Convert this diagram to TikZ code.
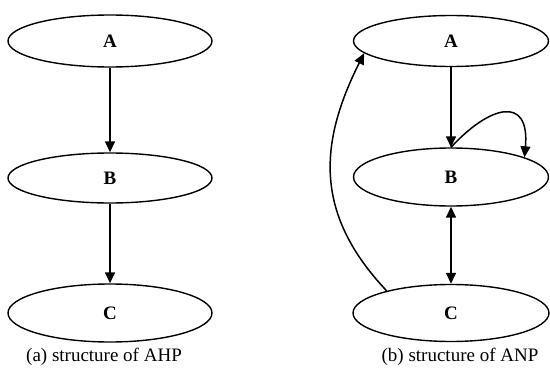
\documentclass[tikz,border=0pt]{standalone}
\usepackage{fontspec}
\setmainfont{Liberation Serif}
\usetikzlibrary{shapes.geometric,arrows.meta}
\begin{document}
\begin{tikzpicture}[x=1pt,y=-1pt,
  ell/.style={ellipse,draw,line width=1.4pt,inner sep=0pt,font=\fontsize{19}{22}\selectfont\bfseries},
  con/.style={line width=1.5pt,-{Triangle[length=11pt,width=10pt]}},
  biarrow/.style={line width=1.5pt,{Triangle[length=11pt,width=10pt]}-{Triangle[length=11pt,width=10pt]}},
  captext/.style={font=\fontsize{19}{22}\selectfont}]
\useasboundingbox (0,0) rectangle (550,375);
% left: AHP
\node[ell,minimum width=204pt,minimum height=52pt] (lA) at (110,41) {A};
\node[ell,minimum width=204pt,minimum height=50pt] (lB) at (110,178) {B};
\node[ell,minimum width=204pt,minimum height=58pt] (lC) at (110,313) {C};
\node[captext] (lcap) at (104,357) {(a) structure of AHP};
\draw[con] (lA.south) -- (lB.north);
\draw[con] (lB.south) -- (lC.north);
% right: ANP
\node[ell,minimum width=195pt,minimum height=51pt] (rA) at (451,41) {A};
\node[ell,minimum width=195pt,minimum height=58pt] (rB) at (451,177) {B};
\node[ell,minimum width=196pt,minimum height=57pt] (rC) at (451,313) {C};
\node[captext] (rcap) at (460,357) {(b) structure of ANP};
\draw[con] (rA.south) -- (rB.north);
\draw[biarrow] (rB.south) -- (rC.north);
\draw[con] (rB.north) .. controls (490,105) and (530,95) .. (rB.15);
\draw[con] (rC.161) .. controls (315,215) and (318,145) .. (rA.188);
\end{tikzpicture}
\end{document}
